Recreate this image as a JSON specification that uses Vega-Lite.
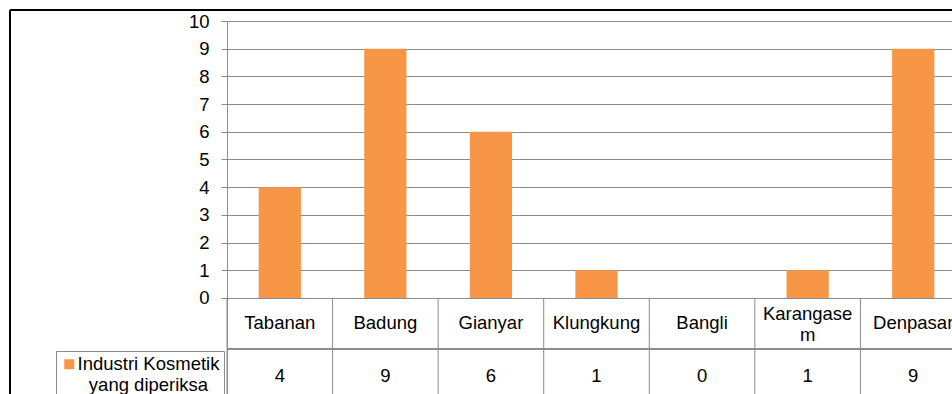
{
  "$schema": "https://vega.github.io/schema/vega-lite/v6.json",
  "width": 725,
  "height": 373,
  "autosize": {"type": "none"},
  "padding": {"left": 227, "top": 21, "right": 0, "bottom": 0},
  "background": "#ffffff",
  "config": {
    "font": "Liberation Sans",
    "view": {"stroke": null}
  },
  "data": {
    "values": [
      {"kabupaten": "Tabanan", "label": "Tabanan", "jumlah": 4},
      {"kabupaten": "Badung", "label": "Badung", "jumlah": 9},
      {"kabupaten": "Gianyar", "label": "Gianyar", "jumlah": 6},
      {"kabupaten": "Klungkung", "label": "Klungkung", "jumlah": 1},
      {"kabupaten": "Bangli", "label": "Bangli", "jumlah": 0},
      {"kabupaten": "Karangasem", "label": "Karangase\nm", "jumlah": 1},
      {"kabupaten": "Denpasar", "label": "Denpasar", "jumlah": 9}
    ]
  },
  "layer": [
    {
      "layer": [
        {
          "mark": {"type": "bar", "width": {"band": 0.4}},
          "encoding": {
            "x": {"field": "kabupaten", "type": "nominal", "sort": null, "axis": null,
                  "scale": {"type": "band", "range": [0, 739], "paddingInner": 0, "paddingOuter": 0}},
            "y": {
              "field": "jumlah", "type": "quantitative", "title": null,
              "scale": {"domain": [-3.47, 10], "nice": false, "zero": false},
              "axis": {
                "values": [0, 1, 2, 3, 4, 5, 6, 7, 8, 9, 10],
                "grid": true, "gridColor": "#8c8c8c", "gridWidth": 1,
                "domainColor": "#8c8c8c", "domainWidth": 1,
                "tickColor": "#8c8c8c", "tickSize": 6, "tickWidth": 1,
                "labelFontSize": 18.5, "labelColor": "#000000", "labelPadding": 12,
                "labelFont": "Liberation Sans"
              }
            },
            "y2": {"datum": 0},
            "color": {
              "datum": "Industri Kosmetik yang diperiksa",
              "scale": {"range": ["#F79646"]},
              "legend": {
                "orient": "none", "legendX": -171, "legendY": 330,
                "title": null,
                "labelExpr": "['Industri Kosmetik', 'yang diperiksa']",
                "labelFontSize": 18.5, "labelColor": "#000000", "labelFont": "Liberation Sans",
                "labelAlign": "center", "labelBaseline": "middle", "labelOffset": 70, "labelLimit": 400,
                "symbolType": "square", "symbolSize": 100, "symbolStrokeWidth": 0,
                "strokeColor": "#8c8c8c", "padding": 4, "fillColor": "#ffffff"
              }
            }
          }
        },
        {
          "mark": {"type": "rule", "color": "#8c8c8c", "strokeWidth": 1},
          "encoding": {
            "x": {"field": "kabupaten", "type": "nominal", "sort": null, "bandPosition": 0, "axis": null},
            "y": {"datum": 0, "type": "quantitative", "title": null,
                  "axis": {"values": [0, 1, 2, 3, 4, 5, 6, 7, 8, 9, 10]}},
            "y2": {"datum": -3.47}
          }
        },
        {
          "mark": {"type": "rule", "color": "#8c8c8c", "strokeWidth": 1},
          "encoding": {
            "y": {"datum": -1.84, "type": "quantitative", "title": null,
                  "axis": {"values": [0, 1, 2, 3, 4, 5, 6, 7, 8, 9, 10]}}
          }
        },
        {
          "transform": [{"filter": "indexof(datum.label, '\\n') < 0"}],
          "mark": {"type": "text", "fontSize": 18.5, "color": "#000000", "baseline": "middle"},
          "encoding": {
            "x": {"field": "kabupaten", "type": "nominal", "sort": null, "axis": null},
            "y": {"datum": -0.9, "type": "quantitative", "title": null,
                  "axis": {"values": [0, 1, 2, 3, 4, 5, 6, 7, 8, 9, 10]}},
            "text": {"field": "label"}
          }
        },
        {
          "transform": [{"filter": "indexof(datum.label, '\\n') >= 0"}],
          "mark": {"type": "text", "fontSize": 18.5, "color": "#000000", "baseline": "middle", "lineBreak": "\n", "lineHeight": 21, "dy": -9},
          "encoding": {
            "x": {"field": "kabupaten", "type": "nominal", "sort": null, "axis": null},
            "y": {"datum": -0.9, "type": "quantitative", "title": null,
                  "axis": {"values": [0, 1, 2, 3, 4, 5, 6, 7, 8, 9, 10]}},
            "text": {"field": "label"}
          }
        },
        {
          "mark": {"type": "text", "fontSize": 18.5, "color": "#000000", "baseline": "middle"},
          "encoding": {
            "x": {"field": "kabupaten", "type": "nominal", "sort": null, "axis": null},
            "y": {"datum": -2.82, "type": "quantitative", "title": null,
                  "axis": {"values": [0, 1, 2, 3, 4, 5, 6, 7, 8, 9, 10]}},
            "text": {"field": "jumlah", "type": "quantitative"}
          }
        }
      ]
    },
    {
      "data": {"values": [{"bingkai": "tepi"}]},
      "layer": [
        {
          "mark": {"type": "rule", "color": "#000000", "strokeWidth": 2},
          "encoding": {
            "x": {"datum": 0, "type": "quantitative", "axis": null,
                  "scale": {"domain": [0, 1], "range": [-217, 725]}},
            "y": {"datum": 1, "type": "quantitative", "axis": null,
                  "scale": {"domain": [0, 1], "range": [373, -11]}},
            "y2": {"datum": 0}
          }
        },
        {
          "mark": {"type": "rule", "color": "#000000", "strokeWidth": 2},
          "encoding": {
            "x": {"datum": 0, "type": "quantitative", "axis": null},
            "x2": {"datum": 1},
            "y": {"datum": 1, "type": "quantitative", "axis": null}
          }
        }
      ]
    }
  ],
  "resolve": {"scale": {"x": "independent", "y": "independent"}}
}
